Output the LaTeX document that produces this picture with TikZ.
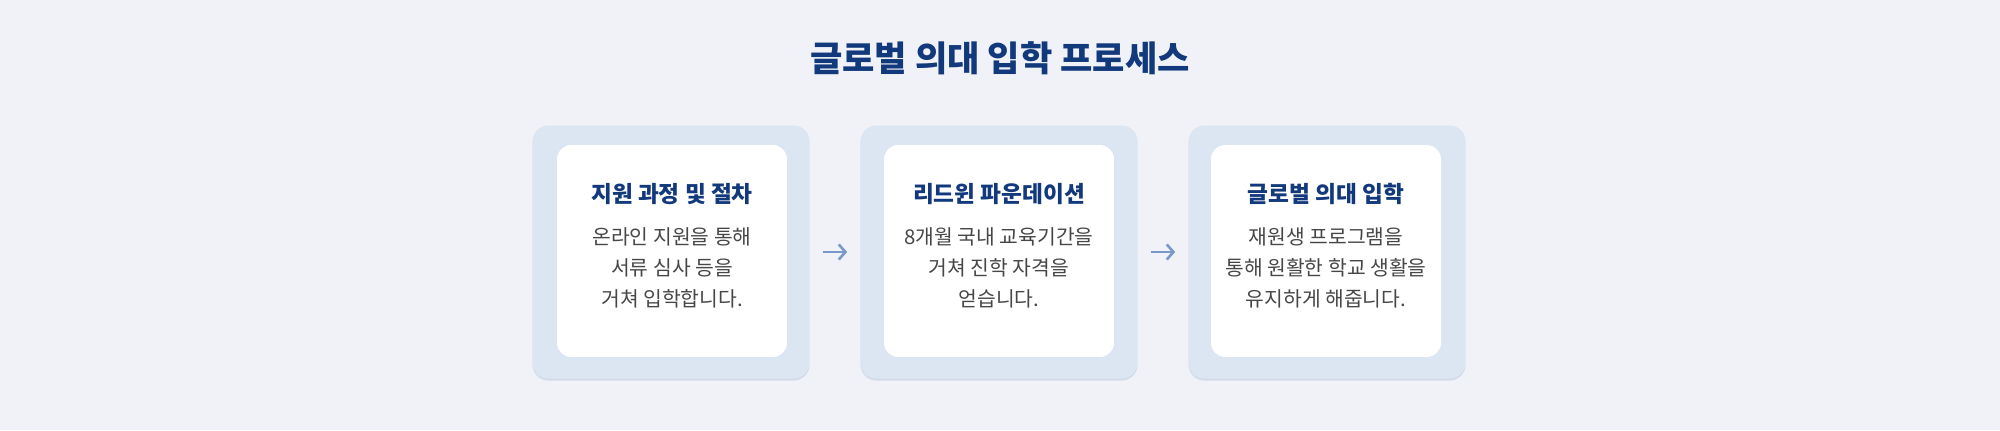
\documentclass[tikz,border=0pt]{standalone}
\usepackage{fontspec}
\setmainfont{Noto Sans CJK KR}
\usepackage{tikz}
\usetikzlibrary{arrows.meta,positioning,shadows}
\definecolor{PageBg}{HTML}{F0F2F7}
\definecolor{CardBlue}{HTML}{DCE5F2}
\definecolor{ShadowBlue}{HTML}{CDD7E6}
\definecolor{NavyBlue}{HTML}{12397C}
\definecolor{TextGray}{HTML}{474747}
\definecolor{ArrowBlue}{HTML}{7B98CA}

\begin{document}
\begin{tikzpicture}[
  x=0.02cm,y=-0.02cm,
  outercard/.style={rectangle,rounded corners=9pt,fill=CardBlue,
                    minimum width=5.54cm,minimum height=5.06cm,
                    drop shadow={shadow xshift=0pt,shadow yshift=-1.2pt,
                                 fill=ShadowBlue,opacity=0.8}},
  innercard/.style={rectangle,rounded corners=8pt,fill=white,
                    minimum width=4.6cm,minimum height=4.24cm},
  cardtitle/.style={font=\fontsize{12.9}{15}\selectfont\bfseries,text=NavyBlue},
  cardbody/.style={font=\fontsize{11.6}{17.6}\selectfont,text=TextGray,align=center},
  arrow/.style={-{Straight Barb[length=3.8pt,width=8.6pt]},line width=1.5pt,
                draw=ArrowBlue,shorten >=0.26cm,shorten <=0.26cm}
]
\fill[PageBg] (0,0) rectangle (2000,430);
\useasboundingbox (0,0) rectangle (2000,430);

\node[font=\fontsize{20}{22}\selectfont\bfseries,text=NavyBlue] (title) at (1000,58) {글로벌 의대 입학 프로세스};

% steps
\node[outercard] (card1) at (671,252) {};
\node[outercard] (card2) at (999,252) {};
\node[outercard] (card3) at (1327,252) {};

\node[innercard] (box1) at (672,251) {};
\node[innercard] (box2) at (999,251) {};
\node[innercard] (box3) at (1326,251) {};

\node[cardtitle] (head1) at (672,194) {지원 과정 및 절차};
\node[cardtitle] (head2) at (999,194) {리드윈 파운데이션};
\node[cardtitle] (head3) at (1326,194) {글로벌 의대 입학};

\node[cardbody,below=0.22cm of head1] (text1) {온라인 지원을 통해\\서류 심사 등을\\거쳐 입학합니다.};
\node[cardbody,below=0.22cm of head2] (text2) {8개월 국내 교육기간을\\거쳐 진학 자격을\\얻습니다.};
\node[cardbody,below=0.22cm of head3] (text3) {재원생 프로그램을\\통해 원활한 학교 생활을\\유지하게 해줍니다.};

\draw[arrow] (card1) -- (card2);
\draw[arrow] (card2) -- (card3);
\end{tikzpicture}
\end{document}
